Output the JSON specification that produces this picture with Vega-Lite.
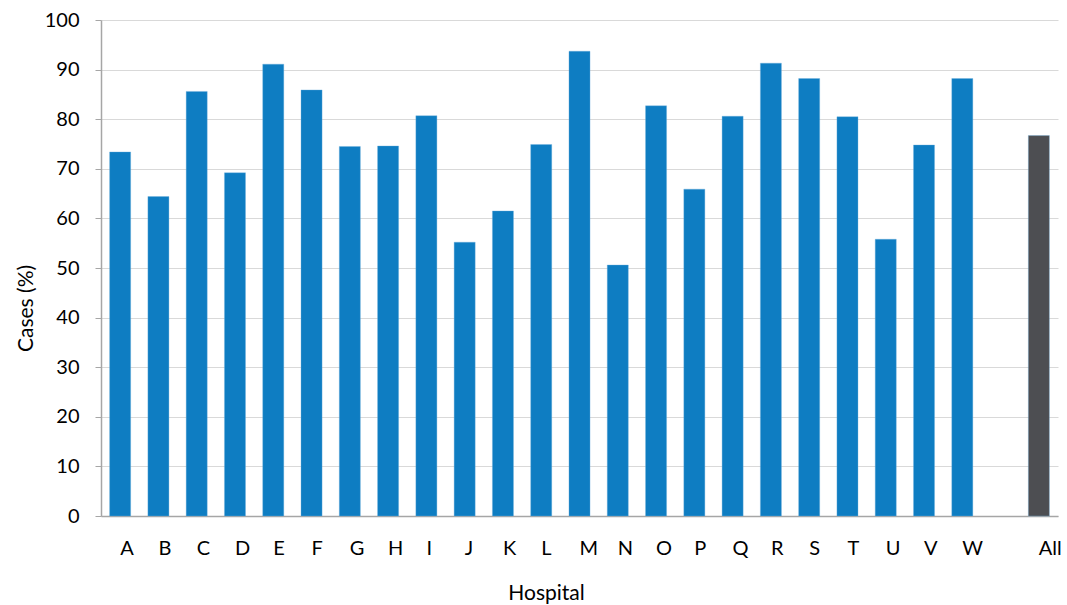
{
  "$schema": "https://vega.github.io/schema/vega-lite/v6.json",
  "autosize": {"type": "none"},
  "padding": {"left": 101, "top": 20, "right": 9, "bottom": 89},
  "width": 957,
  "height": 496,
  "background": "white",
  "data": {"values": [
    {"hospital": "A", "cases": 73.4, "group": "h"},
    {"hospital": "B", "cases": 64.4, "group": "h"},
    {"hospital": "C", "cases": 85.6, "group": "h"},
    {"hospital": "D", "cases": 69.2, "group": "h"},
    {"hospital": "E", "cases": 91.1, "group": "h"},
    {"hospital": "F", "cases": 85.9, "group": "h"},
    {"hospital": "G", "cases": 74.5, "group": "h"},
    {"hospital": "H", "cases": 74.6, "group": "h"},
    {"hospital": "I", "cases": 80.7, "group": "h"},
    {"hospital": "J", "cases": 55.2, "group": "h"},
    {"hospital": "K", "cases": 61.5, "group": "h"},
    {"hospital": "L", "cases": 74.9, "group": "h"},
    {"hospital": "M", "cases": 93.7, "group": "h"},
    {"hospital": "N", "cases": 50.6, "group": "h"},
    {"hospital": "O", "cases": 82.7, "group": "h"},
    {"hospital": "P", "cases": 65.9, "group": "h"},
    {"hospital": "Q", "cases": 80.6, "group": "h"},
    {"hospital": "R", "cases": 91.3, "group": "h"},
    {"hospital": "S", "cases": 88.2, "group": "h"},
    {"hospital": "T", "cases": 80.5, "group": "h"},
    {"hospital": "U", "cases": 55.8, "group": "h"},
    {"hospital": "V", "cases": 74.8, "group": "h"},
    {"hospital": "W", "cases": 88.2, "group": "h"},
    {"hospital": "All", "cases": 76.7, "group": "all"}
  ]},
  "mark": {"type": "bar", "stroke": "#6fb0dc", "strokeWidth": 0.6, "strokeOpacity": 0.6},
  "encoding": {
    "x": {
      "field": "hospital", "type": "nominal",
      "scale": {
        "domain": ["A","B","C","D","E","F","G","H","I","J","K","L","M","N","O","P","Q","R","S","T","U","V","W","_gap","All"],
        "paddingInner": 0.45, "paddingOuter": 0.225
      },
      "axis": {
        "title": "Hospital", "labelAngle": 0, "ticks": false,
        "labelExpr": "datum.label == '_gap' ? '' : datum.label",
        "labelAlign": "left", "labelDx": 1, "labelBaseline": "alphabetic", "labelPadding": 38,
        "titleX": 445, "titleY": 83, "titleBaseline": "alphabetic", "titleAlign": "center",
        "labelFont": "Lato", "titleFont": "Lato", "labelFontSize": 20, "titleFontSize": 21,
        "titleFontWeight": "normal", "labelColor": "#000", "titleColor": "#000",
        "domainColor": "#a6a6a6", "domainWidth": 1.5, "grid": false
      }
    },
    "y": {
      "field": "cases", "type": "quantitative",
      "scale": {"domain": [0, 100], "nice": false},
      "axis": {
        "title": "Cases (%)", "values": [0,10,20,30,40,50,60,70,80,90,100],
        "tickSize": 6, "tickColor": "#a6a6a6", "labelPadding": 16,
        "titleX": -65, "titleY": 288, "titleAngle": -90, "titleAlign": "center", "titleBaseline": "bottom",
        "labelFont": "Lato", "titleFont": "Lato", "labelFontSize": 20, "titleFontSize": 21,
        "titleFontWeight": "normal", "labelColor": "#000", "titleColor": "#000",
        "domainColor": "#a6a6a6", "domainWidth": 1.5,
        "gridColor": "#d9d9d9", "gridWidth": 1.2
      }
    },
    "color": {
      "field": "group", "type": "nominal",
      "scale": {"domain": ["h", "all"], "range": ["#0e7dc2", "#4d4e52"]},
      "legend": null
    }
  },
  "config": {"view": {"stroke": null}}
}
